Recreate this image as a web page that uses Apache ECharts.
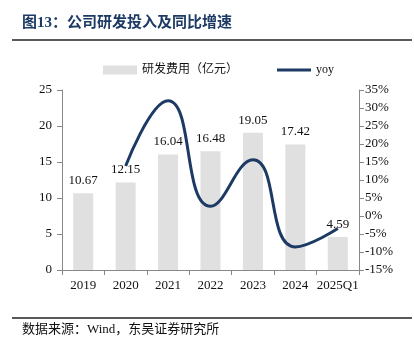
<!DOCTYPE html>
<html>
<head>
<meta charset="utf-8">
<script src="https://cdn.jsdelivr.net/npm/echarts@6/dist/echarts.min.js"></script>
<style>
  html, body { margin: 0; padding: 0; background: #fff; }
  #chart { width: 414px; height: 353px; }
</style>
</head>
<body>
<div id="chart"></div>
<script>
const categories = ['2019', '2020', '2021', '2022', '2023', '2024', '2025Q1']
const rdExpense = [10.67, 12.15, 16.04, 16.48, 19.05, 17.42, 4.59]
const yoy = [null, 13.9, 32.0, 2.7, 15.6, -8.6, -3.5]

const serif = "'Liberation Serif', 'Times New Roman', 'Noto Sans CJK SC', serif"
const navy = '#1c3a63'

const chart = echarts.init(document.getElementById('chart'))

const legendText = { fontSize: 12, color: '#111', fontFamily: serif }

const option = {
  animation: false,
  textStyle: { fontFamily: serif },
  graphic: [
    {
      type: 'text',
      left: 22,
      top: 16,
      style: {
        text: '图13：公司研发投入及同比增速',
        fontSize: 15,
        fontWeight: 'bold',
        fill: navy,
        fontFamily: serif
      }
    },
    {
      type: 'line',
      shape: { x1: 12, y1: 40, x2: 412, y2: 40 },
      style: { stroke: '#222', lineWidth: 1.5 }
    },
    {
      type: 'line',
      shape: { x1: 12, y1: 318, x2: 412, y2: 318 },
      style: { stroke: '#222', lineWidth: 1.5 }
    },
    {
      type: 'text',
      left: 22,
      top: 323,
      style: {
        text: '数据来源：Wind，东吴证券研究所',
        fontSize: 13,
        fill: '#111',
        fontFamily: serif
      }
    }
  ],
  legend: [
    {
      left: 98,
      top: 59,
      itemWidth: 34,
      itemHeight: 9,
      textStyle: legendText,
      data: [{ name: '研发费用（亿元）', icon: 'rect' }]
    },
    {
      left: 272,
      top: 59,
      itemWidth: 34,
      itemHeight: 3,
      textStyle: legendText,
      data: [{ name: 'yoy', icon: 'rect' }]
    }
  ],
  grid: {
    left: 62,
    right: 55,
    top: 90,
    bottom: 83
  },
  xAxis: {
    type: 'category',
    data: categories,
    axisLine: { lineStyle: { color: '#888' } },
    axisTick: { show: true, alignWithLabel: false, lineStyle: { color: '#888' } },
    axisLabel: { color: '#111', fontSize: 13, margin: 9, interval: 0, fontFamily: serif }
  },
  yAxis: [
    {
      type: 'value',
      min: 0,
      max: 25,
      interval: 5,
      splitLine: { show: false },
      axisLine: { show: true, lineStyle: { color: '#888' } },
      axisTick: { show: true, lineStyle: { color: '#888' } },
      axisLabel: { color: '#111', fontSize: 13, margin: 10, fontFamily: serif }
    },
    {
      type: 'value',
      min: -15,
      max: 35,
      interval: 5,
      splitLine: { show: false },
      axisLine: { show: true, lineStyle: { color: '#888' } },
      axisTick: { show: true, lineStyle: { color: '#888' } },
      axisLabel: { color: '#111', fontSize: 13, margin: 6, formatter: '{value}%', fontFamily: serif }
    }
  ],
  series: [
    {
      name: '研发费用（亿元）',
      type: 'bar',
      data: rdExpense,
      barWidth: 20,
      itemStyle: { color: '#e0e0e0' },
      label: {
        show: true,
        position: 'top',
        distance: 6,
        color: '#111',
        fontSize: 13,
        fontFamily: serif
      }
    },
    {
      name: 'yoy',
      type: 'line',
      yAxisIndex: 1,
      data: yoy,
      smooth: 0.5,
      symbol: 'none',
      lineStyle: { color: navy, width: 3 },
      itemStyle: { color: navy }
    }
  ]
}

chart.setOption(option)
</script>
</body>
</html>
